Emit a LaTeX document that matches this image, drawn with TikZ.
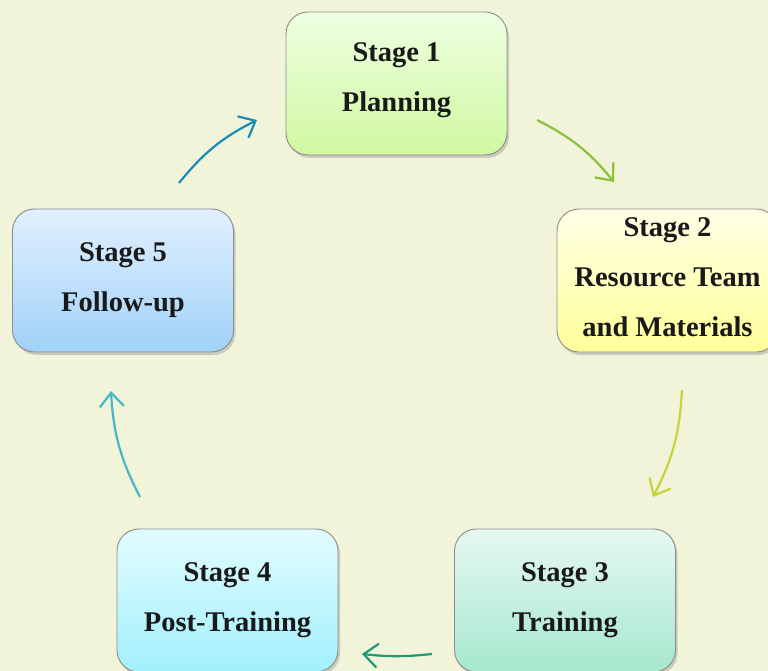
\documentclass[tikz,border=0pt]{standalone}
\usepackage{fontspec}
\setmainfont{Liberation Serif}
\usepackage{xcolor}
\usetikzlibrary{arrows.meta,shadows}

\definecolor{bgcol}{HTML}{F2F4DA}
\definecolor{arrA}{HTML}{8CBF3A}
\definecolor{arrB}{HTML}{C2D63C}
\definecolor{arrC}{HTML}{1A9A78}
\definecolor{arrD}{HTML}{45B8C8}
\definecolor{arrE}{HTML}{1A8CB8}
\definecolor{topA}{HTML}{EEFFE2} \definecolor{botA}{HTML}{D0F8A0}
\definecolor{topB}{HTML}{FFFFE6} \definecolor{botB}{HTML}{FFFF99}
\definecolor{topC}{HTML}{E6F8F0} \definecolor{botC}{HTML}{A6E8CF}
\definecolor{topD}{HTML}{E2FCFF} \definecolor{botD}{HTML}{A2F0FC}
\definecolor{topE}{HTML}{E2F0FF} \definecolor{botE}{HTML}{A0D2F8}

\begin{document}
\begin{tikzpicture}[x=1pt,y=-1pt]
    \tikzstyle{stagebox}=[draw=black!45, line width=0.9pt, rounded corners=22pt,
      minimum width=221pt, minimum height=143pt, align=center,
      font=\fontsize{28.5}{50}\selectfont\bfseries, text=black!90,
      drop shadow={shadow xshift=2pt, shadow yshift=-3pt, opacity=0.35}]
    \tikzstyle{cyc}=[line width=2.2pt, -{Straight Barb[length=14pt,width=24pt]}]
    % background
    \fill [bgcol] (0,0) rectangle (768,671);
    \useasboundingbox (0,0) rectangle (768,671);
    % stages
    \node [stagebox, top color=topA, bottom color=botA] (s1) at (396.5,83.5) {Stage 1\\Planning\vspace{6pt}};
    \node [stagebox, top color=topB, bottom color=botB] (s2) at (667.5,280.5) {Stage 2\\Resource Team\\and Materials\vspace{6pt}};
    \node [stagebox, top color=topC, bottom color=botC] (s3) at (565,600.5) {Stage 3\\Training};
    \node [stagebox, top color=topD, bottom color=botD] (s4) at (227.5,600.5) {Stage 4\\Post-Training};
    \node [stagebox, top color=topE, bottom color=botE] (s5) at (123,280.5) {Stage 5\\Follow-up};
    % arrow ends
    \coordinate (a1) at (537,120);  \coordinate (b1) at (614,182);
    \coordinate (a2) at (682,390);  \coordinate (b2) at (653,497);
    \coordinate (a3) at (432,654);  \coordinate (b3) at (362,654);
    \coordinate (a4) at (140,497);  \coordinate (b4) at (111,391);
    \coordinate (a5) at (179,183);  \coordinate (b5) at (257,120);
    \draw [cyc, arrA] (a1) to[bend left=12] (b1);
    \draw [cyc, arrB] (a2) to[bend left=12] (b2);
    \draw [cyc, arrC] (a3) to[bend left=6] (b3);
    \draw [cyc, arrD] (a4) to[bend left=12] (b4);
    \draw [cyc, arrE] (a5) to[bend left=12] (b5);
\end{tikzpicture}
\end{document}
